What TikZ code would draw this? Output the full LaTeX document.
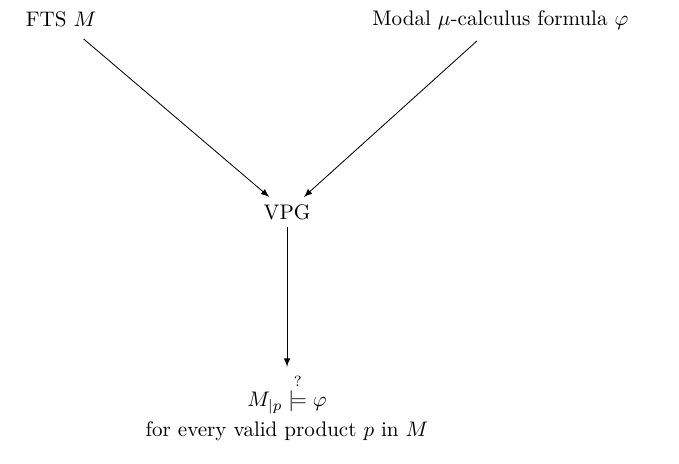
\documentclass[tikz,border=0pt]{standalone}
\usepackage{amsmath,amssymb}
\usepackage{tikz}
\usetikzlibrary{arrows.meta,positioning}

\begin{document}
\begin{tikzpicture}[>=latex]
\useasboundingbox (0,0) rectangle (11.33,-7.74);
\node (fts) at (1.02,-0.33) {FTS $M$};
\node (mu) at (8.35,-0.33) {Modal $\mu$-calculus formula $\varphi$};
\node (vpg) at (4.79,-3.54) {VPG};
\node[align=center] (res) at (4.79,-6.8) {$M_{|p} \stackrel{?}{\models} \varphi$\\[0.5ex] for every valid product $p$ in $M$};
\draw[->,shorten <=3pt] (fts)--(vpg);
\draw[->,shorten <=3pt] (mu)--(vpg);
\draw[->] (vpg)--(res);
\end{tikzpicture}
\end{document}
